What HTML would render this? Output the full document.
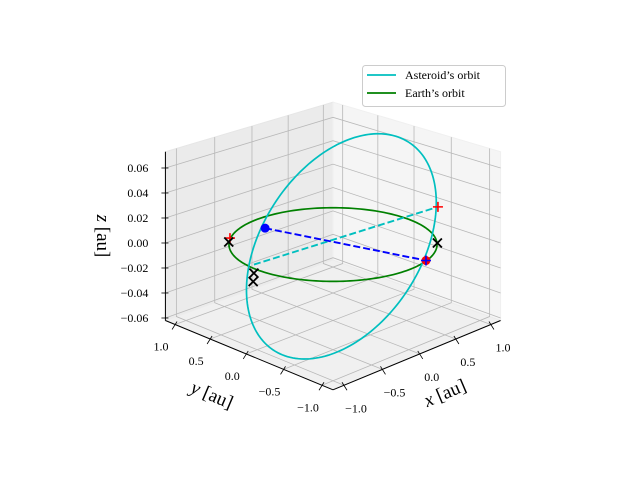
<!DOCTYPE html>
<html><head><meta charset="utf-8">
<style>
html,body{margin:0;padding:0;background:#fff;}
svg{display:block;font-family:"Liberation Serif",serif;}
</style></head>
<body>
<svg id="chart" width="640" height="480" viewBox="0 0 640 480">
<g id="panes"></g><g id="grid"></g><g id="axes"></g><g id="series"></g><g id="markers"></g>
<g id="legend">
<rect x="362.5" y="65.5" width="143" height="41" rx="3" fill="#fff" stroke="#cccccc" stroke-width="1"/>
<line x1="367" y1="75" x2="396" y2="75" stroke="#00bfbf" stroke-width="1.8"/>
<text x="405" y="79" font-size="12">Asteroid’s orbit</text>
<line x1="367" y1="93" x2="396" y2="93" stroke="#008000" stroke-width="1.8"/>
<text x="405" y="97" font-size="12">Earth’s orbit</text>
</g>
</svg>
<script>
const xTicks=[-1,-0.5,0,0.5,1];
const yTicks=[-1,-0.5,0,0.5,1];
const zTicks=[-0.06,-0.04,-0.02,0,0.02,0.04,0.06];
const xTickLabels=["−1.0","−0.5","0.0","0.5","1.0"];
const yTickLabels=["−1.0","−0.5","0.0","0.5","1.0"];
const zTickLabels=["−0.06","−0.04","−0.02","0.00","0.02","0.04","0.06"];
const earthRadius=[1.0];
const asteroidCenter=[0.14,-0.04,0];
const asteroidU=[1.50,0.20,0];
const asteroidV=[0.6,0.6,0.058];
const blueLine=[[-0.18,0.76,0],[0.29,-0.95,0]];
const cyanLine=[[-0.93,0.12,0],[1.47,-0.02,0]];
const blueDots=[[-0.18,0.76,0]];
const redDots=[[0.29,-0.95,0]];
const redPlus=[[1.47,-0.02,0],[-0.61,0.80,0]];
const bluePlus=[[0.29,-0.95,0]];
const blackX=[[-0.69,0.73,0],[0.71,-0.71,0],[-1.08,-0.04,0],[-1.23,-0.19,0]];

const L=1.14, zmin=-0.062, zmax=0.073;
function P(x,y,z){const d=x+y;const f=1/(1+0.03*d);return [333+73.5*(x-y)*f,243+(-26*d-1250*z)*f];}
const NS="http://www.w3.org/2000/svg";
function mk(tag,parent,attrs){const e=document.createElementNS(NS,tag);for(const k in attrs)e.setAttribute(k,attrs[k]);document.getElementById(parent).appendChild(e);return e;}
function poly(pts){return pts.map(p=>P(...p).map(v=>v.toFixed(2)).join(",")).join(" ");}

let e;
e=mk("polygon","panes",{points:poly([[-L,L,zmin],[L,L,zmin],[L,L,zmax],[-L,L,zmax]]),fill:"#ebebeb",stroke:"#e6e6e6"});


e=mk("polygon","panes",{points:poly([[L,L,zmin],[L,-L,zmin],[L,-L,zmax],[L,L,zmax]]),fill:"#f5f5f5",stroke:"#f0f0f0"});


e=mk("polygon","panes",{points:poly([[-L,L,zmin],[L,L,zmin],[L,-L,zmin],[-L,-L,zmin]]),fill:"#f0f0f0",stroke:"#ececec"});



const gs={stroke:"#b8b8b8","stroke-width":"0.8",fill:"none"};
xTicks.forEach(t=>{
 e=mk("polyline","grid",Object.assign({points:poly([[t,-L,zmin],[t,L,zmin],[t,L,zmax]])},gs));
 
 
});
yTicks.forEach(t=>{
 e=mk("polyline","grid",Object.assign({points:poly([[-L,t,zmin],[L,t,zmin],[L,t,zmax]])},gs));
 
 
});
zTicks.forEach(t=>{
 e=mk("polyline","grid",Object.assign({points:poly([[-L,L,t],[L,L,t],[L,-L,t]])},gs));
 
 
});

e=mk("polyline","axes",{points:poly([[-L,-L,zmin],[L,-L,zmin]]),stroke:"#000","stroke-width":"1",fill:"none"});


e=mk("polyline","axes",{points:poly([[-L,-L,zmin],[-L,L,zmin]]),stroke:"#000","stroke-width":"1",fill:"none"});


e=mk("polyline","axes",{points:poly([[-L,L,zmin],[-L,L,zmax]]),stroke:"#000","stroke-width":"1",fill:"none"});



xTicks.forEach((t,i)=>{
 const p=P(t,-L,zmin);
 e=mk("line","axes",{x1:p[0]-2,y1:p[1]-3,x2:p[0]+3,y2:p[1]+5,stroke:"#000","stroke-width":"0.8"});
 
 
 e=mk("text","axes",{x:p[0]+12,y:p[1]+27,"font-size":"12","text-anchor":"middle"});
 e.textContent=xTickLabels[i];
 
 
});
yTicks.forEach((t,i)=>{
 const p=P(-L,t,zmin);
 e=mk("line","axes",{x1:p[0]+2,y1:p[1]-3,x2:p[0]-3,y2:p[1]+5,stroke:"#000","stroke-width":"0.8"});
 
 
 e=mk("text","axes",{x:p[0]-14,y:p[1]+26,"font-size":"12","text-anchor":"middle"});
 e.textContent=yTickLabels[i];
 
 
});
zTicks.forEach((t,i)=>{
 const p=P(-L,L,t);
 e=mk("line","axes",{x1:p[0]-4,y1:p[1],x2:p[0]+3,y2:p[1],stroke:"#000","stroke-width":"0.8"});
 
 
 e=mk("text","axes",{x:p[0]-17,y:p[1]+4,"font-size":"12","text-anchor":"end"});
 e.textContent=zTickLabels[i];
 
 
});
e=mk("text","axes",{x:445,y:399,"font-size":"19","text-anchor":"middle",transform:"rotate(-23 445 393)"});
e.innerHTML='<tspan font-style="italic">x</tspan> [au]';


e=mk("text","axes",{x:212,y:401,"font-size":"19","text-anchor":"middle",transform:"rotate(23 212 395)"});
e.innerHTML='<tspan font-style="italic">y</tspan> [au]';


e=mk("text","axes",{x:103,y:242,"font-size":"19","text-anchor":"middle",transform:"rotate(90 103 236)"});
e.innerHTML='<tspan font-style="italic">z</tspan> [au]';



const N=200;
let earth=[],ast=[];
for(let i=0;i<=N;i++){const t=2*Math.PI*i/N;const c=Math.cos(t),s=Math.sin(t);
 earth.push([earthRadius[0]*c,earthRadius[0]*s,0]);
 ast.push([0,1,2].map(k=>asteroidCenter[k]+asteroidU[k]*c+asteroidV[k]*s));}
e=mk("polyline","series",{points:poly(earth),stroke:"#008000","stroke-width":"1.7",fill:"none"});


e=mk("polyline","series",{points:poly(ast),stroke:"#00bfbf","stroke-width":"1.7",fill:"none"});


e=mk("polyline","series",{points:poly(cyanLine),stroke:"#00bfbf","stroke-width":"1.9","stroke-dasharray":"7 3",fill:"none"});


e=mk("polyline","series",{points:poly(blueLine),stroke:"#0000ff","stroke-width":"1.9","stroke-dasharray":"7 3",fill:"none"});



redDots.forEach(q=>{const p=P(...q);
 e=mk("circle","markers",{cx:p[0],cy:p[1],r:4.5,fill:"#ff0000"});
 
 });
blueDots.forEach(q=>{const p=P(...q);
 e=mk("circle","markers",{cx:p[0],cy:p[1],r:4.5,fill:"#0000ff"});
 
 });
function plus(q,col,name){const p=P(...q);
 e=mk("path","markers",{d:`M${p[0]-5},${p[1]}H${p[0]+5}M${p[0]},${p[1]-5}V${p[1]+5}`,stroke:col,"stroke-width":"1.6"});
 
 }
redPlus.forEach(q=>plus(q,"#ff0000","red-plus-marker"));
bluePlus.forEach(q=>plus(q,"#0000ff","blue-plus-marker"));
blackX.forEach(q=>{const p=P(...q);
 e=mk("path","markers",{d:`M${p[0]-4.5},${p[1]-4.5}L${p[0]+4.5},${p[1]+4.5}M${p[0]-4.5},${p[1]+4.5}L${p[0]+4.5},${p[1]-4.5}`,stroke:"#000","stroke-width":"1.8"});
 
 });
</script>
</body></html>
